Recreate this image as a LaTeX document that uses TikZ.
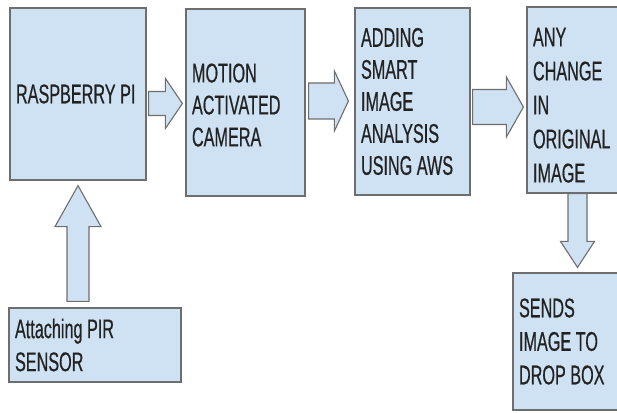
\documentclass[tikz,border=0pt]{standalone}
\usepackage{fontspec}
\setmainfont{Liberation Sans}[FakeStretch=0.6, FakeBold=0.5]
\usetikzlibrary{calc}
\definecolor{boxfill}{HTML}{CFE2F3}
\definecolor{boxdraw}{HTML}{6E6E6E}
\definecolor{txt}{HTML}{222222}
\newcommand{\wsp}{\hspace{4.5pt}}
\tikzset{
  box/.style={draw=boxdraw, fill=boxfill, line width=1.2pt, rectangle,
    align=left, inner xsep=6pt, inner ysep=0pt, text=txt,
    font=\fontsize{27}{32}\selectfont},
  blockarrow/.style={draw=boxdraw, fill=boxfill, line width=1.1pt, line join=miter}
}
% horizontal block arrow: start, tip, shaft half width, head half width, head length
\newcommand{\harrow}[5]{%
  \draw[blockarrow] let \p1=#1, \p2=#2 in
    (\x1,\y1+#3) -- (\x2-#5,\y1+#3) -- (\x2-#5,\y1+#4) -- (\x2,\y1)
    -- (\x2-#5,\y1-#4) -- (\x2-#5,\y1-#3) -- (\x1,\y1-#3) -- cycle;}
% vertical block arrow (sign #6 = +1 upward, -1 downward)
\newcommand{\varrow}[6]{%
  \draw[blockarrow] let \p1=#1, \p2=#2 in
    (\x1+#3,\y1) -- (\x1+#3,\y2-#6*#5) -- (\x1+#4,\y2-#6*#5) -- (\x1,\y2)
    -- (\x1-#4,\y2-#6*#5) -- (\x1-#3,\y2-#6*#5) -- (\x1-#3,\y1) -- cycle;}
\begin{document}
\begin{tikzpicture}[x=1pt,y=1pt]
\useasboundingbox (0,0) rectangle (617,412);
\node[box, minimum width=136pt, minimum height=172pt, text width=124pt] (b1) at (78,318) {RASPBERRY\wsp PI};
\node[box, minimum width=119pt, minimum height=187pt, text width=107pt] (b2) at (245.5,309.5) {\rule{0pt}{24pt}MOTION\\ACTIVATED\\CAMERA};
\node[box, minimum width=115pt, minimum height=187pt, text width=103pt] (b3) at (412.5,310.5) {ADDING\\SMART\\IMAGE\\ANALYSIS\\USING\wsp AWS};
\node[box, minimum width=91pt, minimum height=186pt, text width=79pt, font=\fontsize{27}{34}\selectfont] (b4) at (572.5,312) {\rule{0pt}{29pt}ANY\\CHANGE\\IN\\ORIGINAL\\IMAGE};
\node[box, minimum width=105pt, minimum height=137pt, text width=93pt, font=\fontsize{27}{33.5}\selectfont] (b5) at (565.5,70.5) {SENDS\\IMAGE\wsp TO\\DROP\wsp BOX};
\node[box, minimum width=172pt, minimum height=74pt, text width=160pt, font=\fontsize{27}{33}\selectfont] (b6) at (95,67) {Attaching\wsp PIR\\SENSOR};
% connectors
\harrow{($(b1.east)+(2,-9.5)$)}{($(b2.west)+(-3,0)$)}{12}{25}{17}
\harrow{($(b2.east)+(3,1.5)$)}{($(b3.west)+(-6,0)$)}{18}{30}{14}
\harrow{($(b3.east)+(2,-5.5)$)}{($(b4.west)+(-3,0)$)}{17.5}{30}{17}
\varrow{($(b4.south)+(5,0)$)}{($(b5.north)+(0,5)$)}{9.5}{17}{26}{-1}
\varrow{($(b6.north)+(-17,6)$)}{($(b1.south)+(0,-5)$)}{11}{23}{41}{1}
\end{tikzpicture}
\end{document}
